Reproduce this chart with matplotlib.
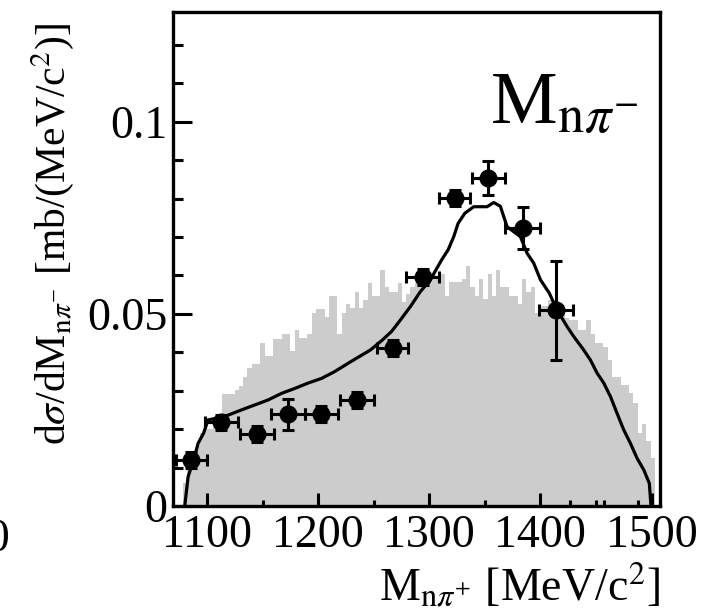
import numpy as np
import matplotlib as mpl
mpl.use('agg')
import matplotlib.pyplot as plt

plt.rcParams['font.family'] = ['Liberation Serif', 'DejaVu Serif']
plt.rcParams['mathtext.fontset'] = 'stix'

# simulated phase-space histogram (grey), 110 bins between 1078.5 and 1503
hist_lo, hist_hi = 1078.5, 1503.0
hist_vals = [
    0.006, 0.010, 0.014, 0.016, 0.019, 0.020, 0.020, 0.021, 0.021, 0.0292,
    0.0292, 0.0292, 0.0302, 0.0312, 0.0336, 0.0359, 0.037, 0.037, 0.0424, 0.039,
    0.039, 0.0435, 0.0435, 0.0448, 0.0448, 0.0404, 0.0458, 0.0437, 0.0437, 0.0448,
    0.0503, 0.0513, 0.0513, 0.0492, 0.0547, 0.0547, 0.0448, 0.0503, 0.0526, 0.0515,
    0.0557, 0.0515, 0.0537, 0.058, 0.0547, 0.0547, 0.0615, 0.057, 0.0557, 0.0557,
    0.058, 0.053, 0.0552, 0.057, 0.058, 0.057, 0.059, 0.058, 0.060, 0.059,
    0.0604, 0.0547, 0.0584, 0.0584, 0.0584, 0.059, 0.0624, 0.057, 0.0547, 0.059,
    0.054, 0.0604, 0.0546, 0.0614, 0.057, 0.057, 0.0547, 0.0547, 0.0527, 0.059,
    0.0558, 0.057, 0.0503, 0.052, 0.052, 0.0536, 0.0536, 0.050, 0.050, 0.049,
    0.0483, 0.0483, 0.0457, 0.0457, 0.0483, 0.0448, 0.0425, 0.0425, 0.0415, 0.038,
    0.0337, 0.0337, 0.0315, 0.0315, 0.0294, 0.0269, 0.0191, 0.0214, 0.017, 0.0125,
]

# model curve
curve_m = [1080, 1083, 1088, 1092, 1097, 1101, 1116, 1131, 1143, 1155,
           1167, 1179, 1191, 1203, 1215, 1229, 1247, 1257, 1266, 1274,
           1283, 1292, 1301, 1311, 1317, 1322, 1326, 1332, 1340, 1352,
           1358, 1364, 1370, 1382, 1388, 1394, 1400, 1408, 1415, 1424,
           1430, 1439, 1445, 1451, 1457, 1463, 1469, 1475, 1481, 1487,
           1493, 1498, 1499.5]
curve_xs = [0.0, 0.0076, 0.012, 0.0163, 0.019, 0.0224, 0.0233, 0.025, 0.0263, 0.0276,
            0.0293, 0.0306, 0.032, 0.0332, 0.035, 0.0375, 0.0406, 0.043, 0.0454, 0.0484,
            0.0519, 0.0558, 0.0589, 0.064, 0.0667, 0.0701, 0.0736, 0.0762, 0.0779, 0.0779,
            0.079, 0.078, 0.0727, 0.0701, 0.0658, 0.0632, 0.0589, 0.0554, 0.051, 0.0467,
            0.0441, 0.0406, 0.038, 0.0346, 0.032, 0.0285, 0.0241, 0.0198, 0.0163, 0.0124,
            0.0094, 0.0059, 0.0]

# measured points
mass_pts = [1086, 1113, 1145, 1173, 1203, 1235, 1267, 1294, 1323, 1353, 1384, 1414]
mass_err = [14, 15, 15, 15, 15, 15, 14, 15, 14, 15, 16, 15]
xs_pts = [0.012, 0.0218, 0.0187, 0.0239, 0.0239, 0.0276, 0.0411, 0.0596, 0.0802, 0.0854, 0.0724, 0.051]
xs_err = [0.002, 0.002, 0.002, 0.004, 0.002, 0.002, 0.002, 0.002, 0.002, 0.0044, 0.0054, 0.0129]

fig = plt.figure(figsize=(7.06, 6.16), dpi=100)
ax = fig.add_axes([0.245, 0.1786, 0.69, 0.802])

edges = np.linspace(hist_lo, hist_hi, len(hist_vals) + 1)
ax.stairs(hist_vals, edges, fill=True, color='#cccccc', lw=0, zorder=1)

ax.plot(curve_m, curve_xs, '-', color='k', lw=2.3, zorder=3)
ax.errorbar(mass_pts, xs_pts, xerr=mass_err, yerr=xs_err, fmt='o', color='k',
            ms=12, elinewidth=2.2, capsize=4.5, capthick=2.2, zorder=5)

ax.set_xlim(1069.4, 1507.7)
ax.set_ylim(0, 0.1286)

ax.set_xticks([1100, 1200, 1300, 1400, 1500])
ax.set_xticks([1150, 1250, 1350, 1427, 1450, 1457, 1488], minor=True)
ax.set_yticks([0, 0.05, 0.1])
ax.set_yticklabels(['0', '0.05', '0.1'])
ax.set_yticks([0.01, 0.02, 0.03, 0.04, 0.06, 0.07, 0.08, 0.09, 0.11, 0.12], minor=True)

for s in ax.spines.values():
    s.set_linewidth(2.4)
ax.tick_params(which='both', direction='in', width=2.2, labelsize=33)
ax.tick_params(axis='x', which='major', length=9.5, pad=6)
ax.tick_params(axis='x', which='minor', length=4)
ax.tick_params(axis='y', which='major', length=14, pad=4)
ax.tick_params(axis='y', which='minor', length=7)

ax.set_xlabel(r'M$_{\mathrm{n}\pi^{+}}$ [MeV/c$^{2}$]', fontsize=33, loc='right', labelpad=4)
ax.set_ylabel(r'd$\sigma$/dM$_{\mathrm{n}\pi^{-}}$ [mb/(MeV/c$^{2}$)]', fontsize=30)
ax.yaxis.set_label_coords(-0.2, 0.55)

ax.text(0.651, 0.775, r'M$_{\mathrm{n}\pi^{-}}$', transform=ax.transAxes,
        fontsize=54, ha='left', va='baseline')

# edge of the neighbouring panel's tick label
fig.text(0.014, 1 - 540 / 616, '1500', fontsize=33, ha='right', va='center')

plt.savefig('out.png', dpi=100)
